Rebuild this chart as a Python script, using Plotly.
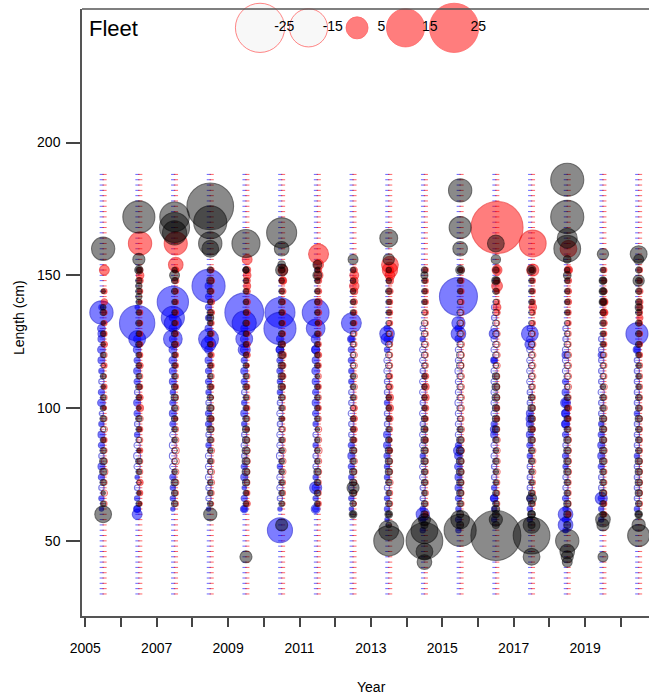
import math
import plotly.graph_objects as go

# ---------------- data ----------------
YEARS = list(range(2005, 2021))
LEN_BINS = list(range(30, 190, 2))           # length bins (cm)
SMALL_BINS_B = list(range(54, 151, 4))       # bins used for blue small residuals
SMALL_BINS_RK = list(range(56, 153, 4))      # bins used for red / black small residuals
X_TICK_LABEL_YEARS = [2005, 2007, 2009, 2011, 2013, 2015, 2017, 2019]
Y_TICKS = [50, 100, 150, 200]
LEGEND_VALUES = [-25, -15, 5, 15, 25]

BLUE_SMALL = {
    2005: [0,0,.2,.3,-.3,.4,.5,-.3,.4,.5,.3,-.2,.6,.4,-.3,.3,.5,.6,.5,.6,0,.3,0,0,0],
    2006: [0,0,.4,.3,-.3,.2,-.4,-.5,-.4,.3,-.3,.4,.5,-.3,.4,.5,.4,.6,.5,0,0,.2,0,0,0],
    2007: [0,0,.2,.3,.3,.4,-.4,-.5,-.5,-.4,.4,.5,.4,.3,.5,.5,.6,.6,.5,.6,.5,0,0,0,0],
    2008: [0,0,.2,-.3,-.3,-.4,-.4,-.4,.3,-.3,.4,.4,-.3,.3,.4,.4,.5,.6,.6,.5,.4,.4,.4,.5,0],
    2009: [0,0,.3,.4,.2,.5,.4,-.3,-.4,-.3,.3,.5,.3,-.3,.4,.5,.4,.6,.6,.5,0,0,0,0,0],
    2010: [0,0,.2,-.3,-.4,-.4,.3,-.5,-.4,-.4,-.3,-.4,-.3,.3,.3,.4,.4,.6,.5,0,0,0,0,0,0],
    2011: [0,0,.4,.3,.5,.3,-.3,-.3,.3,-.3,.3,.4,.5,.4,.5,.6,.5,.6,0,0,0,0,0,0,0],
    2012: [0,0,.2,.3,-.3,.3,.4,.5,.4,-.3,-.3,-.4,-.3,-.3,.3,.3,.4,.4,.3,0,0,0,0,0,0],
    2013: [0,.2,.3,.3,-.3,.3,.3,.4,.5,.5,-.3,-.3,.3,-.3,-.3,-.4,-.4,.3,.4,.4,0,0,0,0,0],
    2014: [.3,.4,.3,-.3,-.3,-.4,-.4,.3,-.4,-.4,-.3,-.4,-.3,-.4,-.4,-.3,-.4,-.4,.3,-.3,0,0,0,0,0],
    2015: [.3,.4,.3,.4,.5,.5,.6,.6,.4,-.4,-.4,-.4,-.5,-.4,-.4,-.5,-.4,-.4,.5,.5,0,0,0,0,0],
    2016: [0,.3,.3,.5,.3,-.3,-.3,-.4,-.4,.5,.4,-.4,-.4,-.4,-.4,-.4,.3,-.4,-.4,-.4,-.3,-.3,0,0,0],
    2017: [0,.3,.3,.4,-.3,-.3,-.3,.3,.4,.5,.5,.5,-.3,-.3,-.4,-.4,-.4,-.4,-.4,-.3,0,0,0,0,0],
    2018: [.3,.4,.3,.4,-.3,-.3,.3,.4,-.3,.4,.5,.5,.5,.5,.4,-.4,-.4,-.4,-.3,-.3,0,0,0,0,0],
    2019: [0,.3,.3,.4,-.3,-.3,.4,.5,.5,.4,.3,-.3,-.3,-.4,-.3,-.3,-.3,-.3,-.3,0,0,0,0,0,0],
    2020: [0,0,.3,-.3,-.3,-.3,-.3,.3,-.3,-.3,-.3,.3,-.3,-.3,-.3,-.3,-.3,.3,0,0,0,0,0,0,0],
}
RED_SMALL = {
    2005: [0,0,-.3,-.4,-.3,-.5,-.4,-.3,.3,-.4,-.3,.2,-.3,.3,-.2,.3,-.3,.4,.3,.3,.3,.4,.3,0,0],
    2006: [0,0,.2,.3,.4,-.3,-.3,.3,-.3,.3,-.4,.5,.4,.3,-.3,.4,.3,.3,.3,.3,.3,.2,.3,.4,.3],
    2007: [0,0,-.3,-.3,-.4,-.4,-.5,-.5,-.4,-.3,.2,-.4,-.3,.3,-.3,.3,.3,.4,.3,.3,.3,.3,.3,.4,.4],
    2008: [0,0,-.2,-.3,-.4,-.4,-.3,-.4,-.3,-.3,.3,-.3,-.2,.3,-.3,.3,.3,.3,.3,.3,.4,.4,.3,.4,.3],
    2009: [0,0,.4,.3,-.3,-.3,-.4,-.4,-.3,.2,-.3,.3,-.3,.3,-.3,.2,.4,.4,.3,.3,.4,.4,.4,.4,.5],
    2010: [0,0,-.2,-.3,-.3,-.4,-.4,-.4,-.3,-.3,.2,-.3,-.3,.3,.4,.4,.5,.3,.3,.3,.3,.3,.4,.4,.3],
    2011: [0,0,.3,-.3,-.3,-.4,-.4,-.5,-.4,-.4,-.3,.3,-.3,.3,-.3,.3,.4,.3,.3,.4,.4,.5,.4,.4,.4],
    2012: [0,0,-.2,-.3,-.3,-.3,-.4,-.3,.3,.4,.4,.4,-.3,-.4,-.4,-.4,-.4,-.3,-.3,.3,.3,.4,.5,.6,.4],
    2013: [0,0,-.3,-.3,-.4,-.3,-.3,.3,.2,-.3,.4,.5,.5,.4,.3,-.3,-.3,-.3,-.3,.3,.3,.3,.4,.5,.5],
    2014: [0,.3,-.3,-.3,-.3,-.3,-.3,-.3,.3,.2,.3,.4,.5,.5,.4,-.3,-.3,-.4,-.3,-.3,.3,.3,.3,.3,.3],
    2015: [0,0,-.3,-.3,-.3,-.3,-.3,-.4,-.4,-.4,-.3,-.4,-.4,-.4,-.4,-.3,-.4,-.4,-.4,-.3,-.3,.3,.3,.3,.3],
    2016: [0,0,-.3,-.3,-.3,-.4,-.4,-.4,-.4,-.3,.3,.3,-.3,-.3,-.3,-.4,-.4,-.4,-.4,-.3,.4,.3,.3,.4,.4],
    2017: [0,0,-.3,-.3,-.3,-.4,-.4,-.4,-.3,.3,-.3,-.3,-.3,-.3,-.4,-.4,-.4,-.4,-.3,.3,.3,.3,.3,.3,.3],
    2018: [0,.3,-.3,-.3,-.3,-.4,-.4,-.4,-.4,-.3,.3,.4,-.3,-.4,-.4,-.4,-.4,-.3,-.3,.3,.3,.4,.4,.4,.4],
    2019: [0,.3,.3,-.3,-.3,-.3,-.4,-.4,-.3,-.3,-.3,-.4,-.3,-.4,-.3,-.3,-.3,.3,.3,.4,.4,.4,.4,.3,.3],
    2020: [0,0,-.3,-.3,-.3,-.3,-.3,-.3,-.3,-.3,-.3,-.3,-.3,-.3,-.3,-.3,.3,.3,.3,.3,.3,.4,.4,.3,.3],
}
BLACK_SMALL = {
    2005: [0,0,.3,.2,.4,.5,.5,.4,.3,-.3,.4,.3,.3,.2,.3,-.2,.3,.2,.3,.2,.4,0,.2,0,0],
    2006: [0,0,.3,.2,-.2,.3,.4,.2,-.3,.3,.4,.2,.3,.4,.3,.3,.3,.4,.3,.4,.3,.3,.4,.4,.3],
    2007: [0,0,.4,.4,.5,.3,-.3,-.3,.3,.3,.4,.4,.5,.4,.3,.3,.3,.4,.4,.3,.3,.3,.4,.4,.3],
    2008: [0,0,.3,.3,.3,-.3,.3,.3,.4,.5,.5,.5,.4,.4,.3,.3,.2,.3,.3,.3,.4,.3,.4,.5,.4],
    2009: [0,0,.3,.3,.5,.6,.6,.6,.5,.5,.4,.3,.3,.4,.3,.3,.3,.3,.3,.4,.3,.3,.3,.3,.4],
    2010: [0,0,.3,.3,.3,.3,.3,.3,.3,-.3,.3,.3,.4,.5,.5,.5,.6,.5,.4,.3,.3,.4,.3,.3,.4],
    2011: [0,0,.3,.4,.4,.5,.3,.3,.3,.2,.3,.3,.3,.3,.2,.3,.3,.3,.3,.2,.3,.3,.3,.3,.3],
    2012: [0,.3,.4,.5,.5,.5,.4,.5,.4,.3,.3,-.3,.3,.3,.3,-.3,-.3,-.3,-.3,.3,.3,.3,.3,.3,.3],
    2013: [.3,.3,.4,.3,.4,.5,.5,.5,.4,.3,.3,.3,.3,-.3,-.3,-.4,-.4,-.4,-.3,-.3,.3,.3,.4,.3,.3],
    2014: [.5,.5,.4,.3,.4,.4,.5,.5,.5,.5,.4,.3,.3,.3,.3,-.3,-.4,-.4,-.4,-.4,-.3,.3,.3,.3,.4],
    2015: [.5,.5,.4,.5,.5,.6,.6,.6,.5,.4,-.3,-.4,-.4,-.4,-.4,-.5,-.5,-.4,-.4,-.4,-.4,-.3,.3,.3,.3],
    2016: [.5,.5,.4,.4,.3,.3,.4,.3,.4,.5,.5,.5,.6,.6,.5,-.3,-.4,-.4,-.4,-.4,-.4,-.3,.4,.4,.4],
    2017: [.5,.5,.4,.4,.3,.3,.4,.4,.5,.5,.5,.5,.4,-.3,-.4,-.4,-.4,-.4,-.4,-.3,-.3,.3,.3,.3,.3],
    2018: [.5,.5,.5,.4,.4,.5,.5,.5,.5,.4,.4,.3,.4,-.3,-.4,-.4,-.4,-.4,-.3,-.3,.3,.3,.3,.3,.3],
    2019: [0,.4,.4,.5,.4,.4,.5,.5,.5,.5,.5,.4,.4,.3,-.3,-.3,-.3,.3,.3,.4,.4,.4,.4,.4,.3],
    2020: [0,.4,.4,.5,.5,.5,.5,.4,.4,.4,.5,.4,.4,.3,.3,.3,.3,.4,.4,.4,.4,.4,.4,.4,.4],
}

# (year, length, residual) for the larger bubbles
BLUE_BIG = [
    (2005,136,5.6),(2005,128,0.5),
    (2006,132,12.9),(2006,126,2.9),(2006,60,1.0),(2006,62,0.5),
    (2007,140,10.1),(2007,134,5.5),(2007,132,3.0),(2007,126,3.6),
    (2008,146,11.3),(2008,126,4.1),(2008,124,2.2),
    (2009,136,15.5),(2009,132,6.0),(2009,126,2.9),(2009,122,1.5),(2009,62,0.6),
    (2010,136,9.3),(2010,130,10.6),(2010,122,0.6),(2010,54,6.5),
    (2011,136,7.4),(2011,130,3.6),(2011,126,0.8),(2011,122,0.7),(2011,70,1.5),(2011,62,0.8),
    (2012,132,4.1),(2012,126,0.6),
    (2013,128,2.2),(2013,126,1.5),
    (2014,60,1.8),
    (2015,142,14.9),(2015,132,1.8),(2015,128,2.2),(2015,84,1.0),
    (2016,128,1.0),(2016,118,0.5),(2016,92,0.6),(2016,66,0.6),
    (2017,128,2.9),(2017,124,1.0),(2017,96,0.6),
    (2018,102,1.0),(2018,98,0.7),(2018,94,0.7),(2018,60,2.2),(2018,56,2.2),(2018,120,0.5),
    (2019,66,1.5),(2019,120,0.4),
    (2020,128,5.0),(2020,122,0.6),
]
RED_BIG = [
    (2005,152,1.0),
    (2006,162,5.6),(2006,150,0.6),
    (2007,162,5.5),(2007,154,2.2),
    (2009,156,1.0),(2009,150,0.6),(2009,146,0.5),
    (2010,152,1.0),(2010,148,0.6),
    (2011,158,4.1),(2011,154,1.0),(2011,150,0.8),
    (2012,150,0.8),(2012,146,0.9),
    (2013,154,2.9),(2013,152,2.4),(2013,150,1.0),
    (2016,168,27.9),(2016,152,1.0),(2016,146,1.2),(2016,138,0.6),
    (2017,162,7.4),(2017,152,1.5),(2017,138,0.6),
    (2018,160,2.9),(2018,152,0.7),
    (2019,140,0.6),(2019,136,0.6),
    (2020,138,0.4),(2020,134,0.4),
]
BLACK_BIG = [
    (2005,160,5.6),(2005,138,0.3),(2005,60,2.9),
    (2006,172,10.6),(2006,156,1.5),(2006,152,0.7),(2006,146,0.4),(2006,142,0.4),
    (2007,172,9.0),(2007,168,9.3),(2007,166,6.0),(2007,150,1.0),
    (2008,176,22.5),(2008,170,11.3),(2008,162,5.6),(2008,160,2.9),(2008,134,0.5),(2008,60,1.8),
    (2009,162,8.1),(2009,152,0.4),(2009,44,1.5),
    (2010,166,9.3),(2010,160,2.2),(2010,154,0.6),(2010,152,1.5),(2010,56,1.5),
    (2011,154,0.8),(2011,150,0.8),
    (2012,156,1.0),(2012,70,1.5),(2012,60,0.6),
    (2013,164,3.3),(2013,156,1.3),(2013,50,9.3),(2013,54,4.1),(2013,60,0.6),
    (2014,150,0.5),(2014,50,13.9),(2014,54,7.4),(2014,46,2.9),(2014,42,2.2),(2014,58,1.5),
    (2015,182,5.6),(2015,168,5.0),(2015,160,2.2),(2015,152,0.8),(2015,54,10.6),(2015,58,3.6),
    (2016,162,2.9),(2016,156,0.9),(2016,148,0.7),(2016,52,25.8),(2016,58,1.8),(2016,62,0.6),
    (2017,152,0.8),(2017,52,13.9),(2017,56,2.9),(2017,44,2.9),(2017,66,1.0),(2017,60,0.6),
    (2018,186,11.3),(2018,172,11.3),(2018,164,4.1),(2018,160,7.4),(2018,156,0.6),(2018,150,0.6),
    (2018,50,5.6),(2018,46,2.2),(2018,44,1.5),(2018,42,1.0),
    (2019,158,1.3),(2019,148,0.6),(2019,144,0.6),(2019,140,0.6),(2019,58,2.2),(2019,56,1.5),(2019,44,1.0),
    (2020,158,2.9),(2020,156,1.0),(2020,148,1.3),(2020,138,0.5),(2020,52,5.0),(2020,56,1.8),(2020,60,0.6),
]

# ---------------- helpers ----------------
BUBBLE_K = 9.84          # px diameter per sqrt(|residual|)
PX_PER_YEAR = 35.7
FONT = "Liberation Sans, Arial, sans-serif"


def collect(small, bins, big):
    yrs, lens, res = [], [], []
    for yr, vals in small.items():
        for L, v in zip(bins, vals):
            if v != 0:
                yrs.append(yr); lens.append(L); res.append(v)
    for yr, L, v in big:
        yrs.append(yr); lens.append(L); res.append(v)
    return yrs, lens, res


def bubble_trace(data, dx_px, fill, edge):
    yrs, lens, res = data
    x = [y + 0.5 + dx_px / PX_PER_YEAR for y in yrs]
    size = [BUBBLE_K * math.sqrt(abs(v)) for v in res]
    cols = [fill if v > 0 else "rgba(255,255,255,0.25)" for v in res]
    return go.Scatter(x=x, y=lens, mode="markers", hoverinfo="skip", showlegend=False,
                      marker=dict(size=size, color=cols, line=dict(color=edge, width=1.1)))


fig = go.Figure()

# dotted columns (one small dash per length bin)
for dx, col in [(-1.4, "rgba(0,0,255,0.6)"), (1.4, "rgba(255,0,0,0.6)")]:
    xs, ys = [], []
    for yr in YEARS:
        for L in LEN_BINS:
            xs.append(yr + 0.5 + dx / PX_PER_YEAR); ys.append(L)
    fig.add_trace(go.Scatter(x=xs, y=ys, mode="markers", hoverinfo="skip", showlegend=False,
                             marker=dict(symbol="line-ew", size=3, line=dict(color=col, width=1))))

fig.add_trace(bubble_trace(collect(BLUE_SMALL, SMALL_BINS_B, BLUE_BIG), -1.7,
                           "rgba(0,0,255,0.72)", "rgba(0,0,200,0.75)"))
fig.add_trace(bubble_trace(collect(RED_SMALL, SMALL_BINS_RK, RED_BIG), 1.2,
                           "rgba(255,0,0,0.72)", "rgba(230,0,0,0.75)"))
fig.add_trace(bubble_trace(collect(BLACK_SMALL, SMALL_BINS_RK, BLACK_BIG), 0.0,
                           "rgba(0,0,0,0.65)", "rgba(0,0,0,0.75)"))

# bubble size legend at the top
LEG_X0 = 2009.894
LEG_STEP = 1.359
LEG_Y = 243.2
leg_x = [LEG_X0 + i * LEG_STEP for i in range(len(LEGEND_VALUES))]
fig.add_trace(go.Scatter(
    x=leg_x, y=[LEG_Y] * len(LEGEND_VALUES), mode="markers", hoverinfo="skip", showlegend=False,
    cliponaxis=False,
    marker=dict(size=[BUBBLE_K * math.sqrt(abs(v)) for v in LEGEND_VALUES],
                color=["rgba(245,245,245,0.9)" if v < 0 else "rgba(255,0,0,0.72)" for v in LEGEND_VALUES],
                line=dict(color="rgba(255,40,40,0.8)", width=1))))
fig.add_trace(go.Scatter(
    x=[x + LEG_STEP / 2 for x in leg_x], y=[LEG_Y] * len(LEGEND_VALUES), mode="text",
    text=[str(v) for v in LEGEND_VALUES], textposition="middle center", cliponaxis=False,
    textfont=dict(size=14, color="black", family=FONT), hoverinfo="skip", showlegend=False))

PLOT_L, PLOT_T, PLOT_B = 82, 9, 79
W, H = 649, 695
x_left = 2005 - (85.3 - PLOT_L) / PX_PER_YEAR
x_right = x_left + (W - PLOT_L) / PX_PER_YEAR

fig.update_layout(
    width=W, height=H,
    margin=dict(l=PLOT_L, r=0, t=PLOT_T, b=PLOT_B, pad=0),
    paper_bgcolor="white", plot_bgcolor="white",
    font=dict(family=FONT, size=14, color="black"),
    showlegend=False,
    xaxis=dict(range=[x_left, x_right], showgrid=False, zeroline=False,
               showline=True, linecolor="#555555", linewidth=1.5,
               ticks="outside", ticklen=9, tickwidth=1.5, tickcolor="#444444",
               tickvals=YEARS,
               ticktext=[str(y) if y in X_TICK_LABEL_YEARS else "" for y in YEARS],
               tickfont=dict(size=14, family=FONT, color="black"), ticklabelstandoff=9),
    yaxis=dict(range=[21.7, 250.3], showgrid=False, zeroline=False,
               showline=True, linecolor="#555555", linewidth=1.5,
               ticks="outside", ticklen=14, tickwidth=1.5, tickcolor="#444444",
               tickvals=Y_TICKS, tickfont=dict(size=14, family=FONT, color="black"),
               ticklabelstandoff=3),
    shapes=[dict(type="line", xref="paper", yref="paper", x0=0, x1=1, y0=1, y1=1,
                 line=dict(color="#555555", width=1.5))],
    annotations=[
        dict(text="Fleet", xref="paper", yref="paper", x=(87 - PLOT_L) / (W - PLOT_L),
             y=(H - PLOT_B - 29) / (H - PLOT_B - PLOT_T), xanchor="left", yanchor="middle",
             showarrow=False, font=dict(size=22, family=FONT, color="black")),
        dict(text="Year", xref="paper", yref="paper", x=(371 - PLOT_L) / (W - PLOT_L),
             y=(H - PLOT_B - 687) / (H - PLOT_B - PLOT_T), xanchor="center", yanchor="middle",
             showarrow=False, font=dict(size=14, family=FONT, color="black")),
        dict(text="Length (cm)", xref="paper", yref="paper", x=(19 - PLOT_L) / (W - PLOT_L),
             y=(H - PLOT_B - 318) / (H - PLOT_B - PLOT_T), xanchor="center", yanchor="middle",
             textangle=-90, showarrow=False, font=dict(size=14, family=FONT, color="black")),
    ],
)

fig.write_html("out.html")
